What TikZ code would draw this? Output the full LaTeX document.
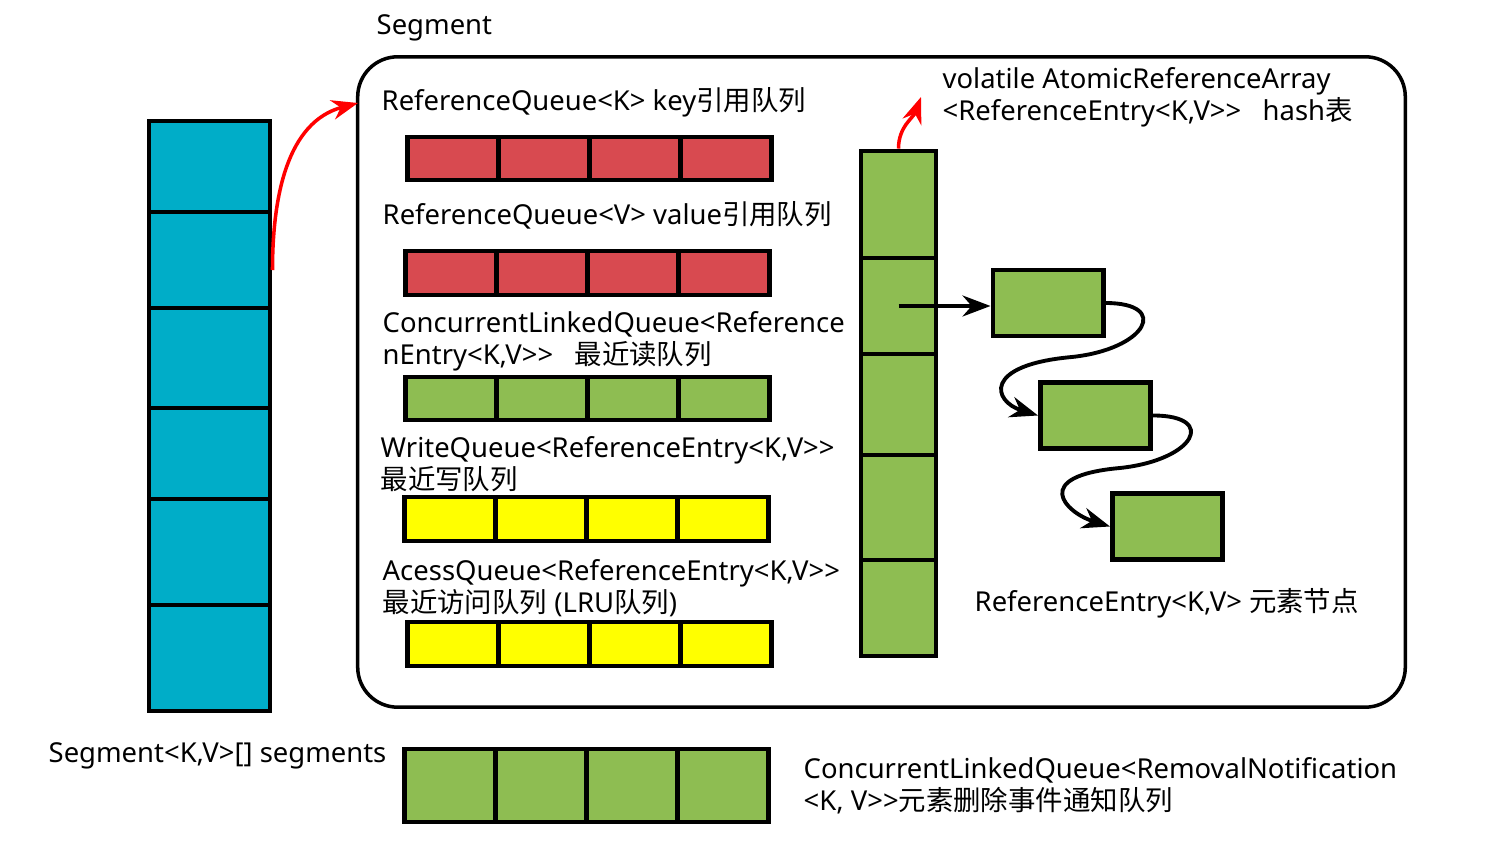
\documentclass[tikz,border=0pt]{standalone}
\usepackage{fontspec}
\setmainfont[Ligatures=TeXOff]{Noto Sans}
\newfontfamily\cjk{Noto Sans CJK SC}
\newcommand{\zh}[1]{{\cjk #1}}
\usetikzlibrary{arrows.meta}
\definecolor{SegTeal}{HTML}{00ADC8}
\definecolor{QueueRed}{HTML}{D84A50}
\definecolor{QueueGreen}{HTML}{8EBD52}
\definecolor{QueueYellow}{HTML}{FFFF00}

\begin{document}
\begin{tikzpicture}[x=0.01cm,y=-0.01cm,>=Stealth,
    cell/.style={draw,line width=1.4pt,inner sep=0pt},
    lab/.style={anchor=west,inner sep=0pt,align=left,font=\fontsize{7.8pt}{9.1pt}\selectfont},
    link/.style={->,line width=1.1pt}]
  \useasboundingbox (0,0) rectangle (1487,849);
  % segments array
  \foreach \i/\ya/\yb in {1/121/212,2/212/308,3/308/408,4/408/499,5/499/605,6/605/711}
    \node[cell,fill=SegTeal,minimum width=1.21cm,minimum height=(\yb-\ya)*0.01cm] (seg\i) at (209.5,{(\ya+\yb)/2}) {};
  \node[lab] (seglab) at (48,756) {Segment<K,V>[] segments};
  % segment box
  \node[lab] (segtitle) at (376,28) {Segment};
  \node[draw,rounded corners=0.4cm,line width=1pt,minimum width=10.47cm,minimum height=6.5cm] (segbox) at (881.5,382) {};
  \coordinate (segin) at (358,103);
  \draw[->,red,line width=1pt] ([yshift=-0.1cm]seg2.east) to[out=90,in=195] (segin);
  % queues
  \foreach \q/\x/\y/\h/\col in {kq/589.5/158.5/0.43/QueueRed,vq/587.5/273/0.44/QueueRed,
      rq/587.5/398.5/0.43/QueueGreen,wq/586.5/519/0.44/QueueYellow,
      aq/589.5/644/0.44/QueueYellow,nq/586.5/785.5/0.73/QueueGreen}{
    \foreach \i in {1,...,4}
      \node[cell,fill=\col,minimum width=0.91cm,minimum height=\h cm] (\q\i) at ({\x+91*(\i-2.5)},\y) {};
  }
  \node[lab] (kqlab) at (381,102) {ReferenceQueue<K> key\zh{引用队列}};
  \node[lab] (vqlab) at (382,215) {ReferenceQueue<V> value\zh{引用队列}};
  \node[lab] (rqlab) at (382,341) {ConcurrentLinkedQueue<Reference\\nEntry<K,V>>\ \ \ \zh{最近读队列}};
  \node[lab] (wqlab) at (380,464) {WriteQueue<ReferenceEntry<K,V>>\\\zh{最近写队列}};
  \node[lab] (aqlab) at (382,588) {AcessQueue<ReferenceEntry<K,V>>\\\zh{最近访问队列} (LRU\zh{队列})};
  \node[lab] (nqlab) at (803,786) {ConcurrentLinkedQueue<RemovalNotification\\<K, V>>\zh{元素删除事件通知队列}};
  % hash table
  \foreach \i/\ya/\yb in {1/151/258,2/258/354,3/354/455,4/455/560,5/560/656}
    \node[cell,fill=QueueGreen,minimum width=0.75cm,minimum height=(\yb-\ya)*0.01cm] (h\i) at (898.5,{(\ya+\yb)/2}) {};
  \node[lab] (hashlab) at (942,97) {volatile AtomicReferenceArray\\<ReferenceEntry<K,V>>\ \ \ hash\zh{表}};
  \coordinate (hashtip) at (921,97);
  \draw[->,red,line width=1pt] (h1.north) to[out=90,in=250] (hashtip);
  % entries
  \node[cell,fill=QueueGreen,minimum width=1.1cm,minimum height=0.66cm] (e1) at (1048,303) {};
  \node[cell,fill=QueueGreen,minimum width=1.1cm,minimum height=0.66cm] (e2) at (1095.5,415.5) {};
  \node[cell,fill=QueueGreen,minimum width=1.1cm,minimum height=0.66cm] (e3) at (1167.5,526.5) {};
  \node[lab] (entrylab) at (974,603) {ReferenceEntry<K,V> \zh{元素节点}};
  \coordinate (m1) at (1072,357);
  \coordinate (m2) at (1120,468);
  \draw[link] (h2.center) -- (h2.center -| e1.west);
  \draw[link] (e1.east) .. controls +(65,0) and +(75,-8) .. (m1) .. controls +(-90,8) and +(-45,-14) .. (e2.west);
  \draw[link] (e2.east) .. controls +(65,0) and +(75,-8) .. (m2) .. controls +(-90,8) and +(-45,-14) .. (e3.west);
\end{tikzpicture}
\end{document}
